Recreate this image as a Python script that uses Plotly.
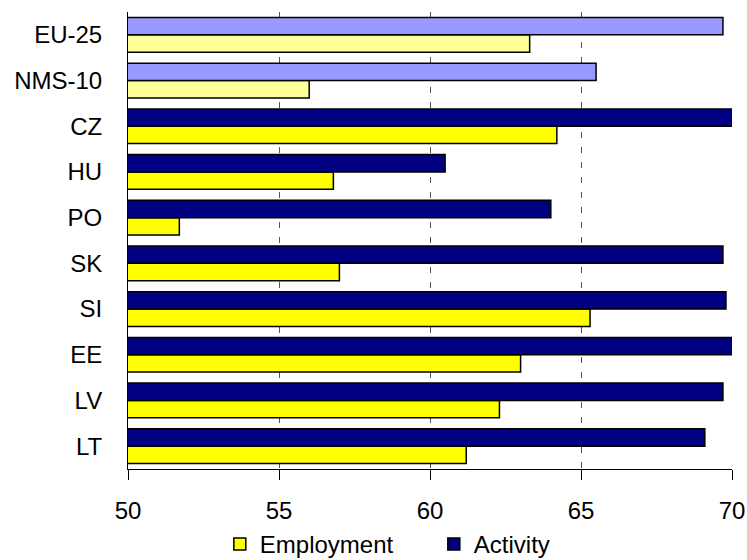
import plotly.graph_objects as go

# Data (bottom to top)
countries = ["LT", "LV", "EE", "SI", "SK", "PO", "HU", "CZ", "NMS-10", "EU-25"]
employment = [61.2, 62.3, 63.0, 65.3, 57.0, 51.7, 56.8, 64.2, 56.0, 63.3]
activity = [69.1, 69.7, 70.0, 69.8, 69.7, 64.0, 60.5, 70.0, 65.5, 69.7]

emp_colors = ["#FFFF00"] * 8 + ["#FFFF99"] * 2
act_colors = ["#000080"] * 8 + ["#9999FF"] * 2

x_ticks = [50, 55, 60, 65, 70]

font_family = "Liberation Sans, Arial, sans-serif"

fig = go.Figure()
fig.add_trace(go.Bar(
    y=countries, x=employment, orientation="h", name="Employment",
    marker=dict(color=emp_colors, line=dict(color="#000000", width=1.5)),
))
fig.add_trace(go.Bar(
    y=countries, x=activity, orientation="h", name="Activity",
    marker=dict(color=act_colors, line=dict(color="#000000", width=1.5)),
))

fig.update_layout(
    width=747, height=560,
    margin=dict(l=128, r=15, t=12, b=91, autoexpand=False),
    paper_bgcolor="white", plot_bgcolor="white",
    barmode="group", bargap=0.24, bargroupgap=0,
    font=dict(family=font_family, color="#000000", size=22),
    showlegend=True,
    legend=dict(orientation="h", x=0.152, xanchor="left", y=-0.165, yanchor="middle",
                font=dict(size=24), itemwidth=30, entrywidth=169,
                bgcolor="rgba(0,0,0,0)", traceorder="normal"),
)
fig.update_xaxes(
    range=[50, 70], tickvals=x_ticks, ticktext=[str(v) for v in x_ticks],
    showgrid=True, gridcolor="#555555", gridwidth=1, griddash="6px,9px",
    showline=True, linecolor="#000000", linewidth=1,
    ticks="outside", ticklen=10, tickcolor="#000000",
    tickfont=dict(size=24), ticklabelstandoff=10, zeroline=False,
)
fig.update_yaxes(
    showline=True, linecolor="#000000", linewidth=1,
    ticks="", ticklabelstandoff=20, tickfont=dict(size=24),
    showgrid=False,
)

fig.write_html("out.html")
